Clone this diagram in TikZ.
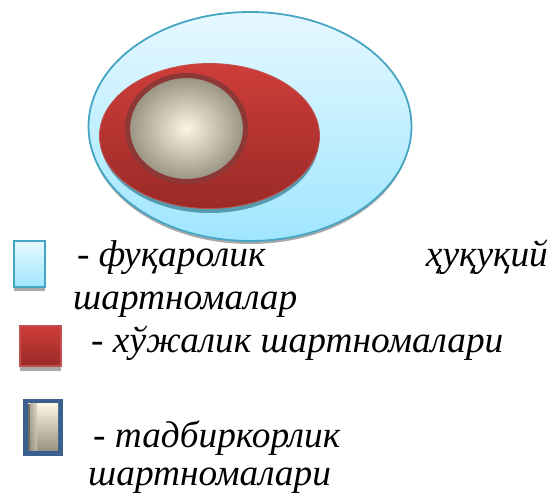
\documentclass[tikz,border=0pt]{standalone}
\usepackage{fontspec}
\setmainfont{Liberation Serif}
\usetikzlibrary{shadings}
\definecolor{cyanline}{HTML}{45A5C2}
\definecolor{cyantop}{HTML}{E6F8FF}
\definecolor{cyanbot}{HTML}{A0E6FF}
\definecolor{redtop}{HTML}{CE3D3A}
\definecolor{redmid}{HTML}{C23B38}
\definecolor{redbot}{HTML}{9A2A27}
\definecolor{redline}{HTML}{C0504D}
\definecolor{ringc}{HTML}{8C3836}
\definecolor{creamin}{HTML}{FBF6E3}
\definecolor{creamout}{HTML}{96927F}
\definecolor{blueline}{HTML}{3B5F8F}
\definecolor{shadowc}{HTML}{A8A8A8}
\tikzset{
  lbl/.style={font=\fontsize{37.3pt}{37.3pt}\selectfont\itshape,anchor=base west,inner sep=0pt,text=black},
  cyanfill/.style={top color=cyantop,bottom color=cyanbot,draw=cyanline,line width=1.8pt},
  redfill/.style={top color=redtop,middle color=redmid,bottom color=redbot,draw=redline,line width=.8pt}
}
\begin{document}
\begin{tikzpicture}[x=1pt,y=-1pt]
\useasboundingbox (0,0) rectangle (550,494);
% outer ellipse
\fill[shadowc] (250,129.5) ellipse [x radius=161,y radius=114.5];
\path[cyanfill] (250,126.5) ellipse [x radius=161.5,y radius=114.5];
% red ellipse
\fill[cyanline!70!gray] (210,140) ellipse [x radius=109,y radius=73];
\path[redfill] (209.5,136) ellipse [x radius=110,y radius=72.5];
% inner disc
\path[draw=ringc,line width=5pt,inner color=creamin,outer color=creamout] (186.5,128.5) ellipse [x radius=59,y radius=53];
% legend swatches
\fill[shadowc] (13.5,246) rectangle (45,291);
\path[top color=cyantop,bottom color=cyanbot,draw=cyanline,line width=2pt] (13.5,241.5) rectangle (44.5,287);
\fill[shadowc] (20,330) rectangle (61,371);
\path[top color=redtop,bottom color=redbot,draw=redline,line width=2pt] (20,326) rectangle (60.5,366.5);
\fill[blueline] (23,399) rectangle (62.5,456);
\path[top color=creamin,bottom color=creamout] (28,404) rectangle (58,451);
\fill[creamout!75!black] (28,404) rectangle (30,451);
\path[left color=creamout,right color=creamout!40!creamin,opacity=.7] (30,404) rectangle (37,451);
% texts
\node[lbl] (t1) at (77,267) {- фуқаролик};
\node[lbl,anchor=base east] (t1b) at (548,267) {ҳуқуқий};
\node[lbl] (t2) at (73,310) {шартномалар};
\node[lbl] (t3) at (91,353) {- хўжалик шартномалари};
\node[lbl] (t4) at (93,448) {- тадбиркорлик};
\node[lbl] (t5) at (88,486) {шартномалари};
\end{tikzpicture}
\end{document}
